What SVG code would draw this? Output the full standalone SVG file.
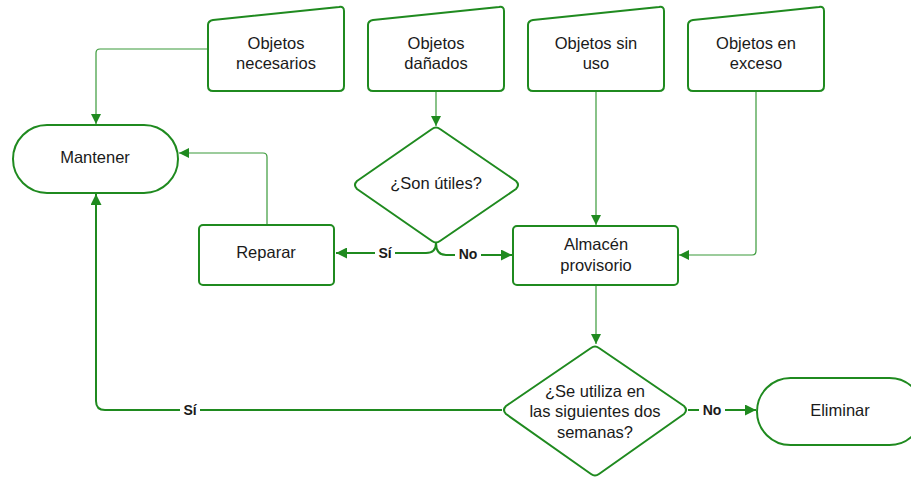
<svg xmlns="http://www.w3.org/2000/svg" width="911" height="477" viewBox="0 0 911 477">
<style>
.n{fill:#fff;stroke:#1f8a1f;stroke-width:2;stroke-linejoin:round}
.t{font-family:"Liberation Sans",Arial,sans-serif;font-size:16.5px;fill:#1a1a1a;text-anchor:middle}
.c{fill:none;stroke:#1f8a1f;stroke-linejoin:round}
.thin{stroke-width:1.2;stroke:#3a9a3a}
.thick{stroke-width:2}
.l{font-family:"Liberation Sans",Arial,sans-serif;font-size:14px;font-weight:bold;fill:#1a1a1a;text-anchor:middle}
.lb{fill:#fff}
</style>
<defs>
<marker id="a" viewBox="0 0 10 10" refX="10" refY="5" markerWidth="10" markerHeight="10" markerUnits="userSpaceOnUse" orient="auto">
<path d="M0,0 L10,5 L0,10 z" fill="#1f8a1f"/>
</marker>
<marker id="b" viewBox="0 0 10 10" refX="10" refY="5" markerWidth="13" markerHeight="11" markerUnits="userSpaceOnUse" orient="auto">
<path d="M0,0 L10,5 L0,10 z" fill="#1f8a1f"/>
</marker>
</defs>
<g id="connectors">
<path class="c thin" d="M208,49 H100 Q96,49 96,53 V124" marker-end="url(#a)"/>
<path class="c thin" d="M436,91 V126" marker-end="url(#a)"/>
<path class="c thin" d="M596,91 V225" marker-end="url(#a)"/>
<path class="c thin" d="M756,91 V251 Q756,255 752,255 H679" marker-end="url(#a)"/>
<path class="c thin" d="M267,224 V157 Q267,153 263,153 H179" marker-end="url(#a)"/>
<path class="c thin" d="M596,285 V344" marker-end="url(#a)"/>
<path class="c thick" d="M436,243 Q436,253 426,253 H336" marker-end="url(#b)"/>
<path class="c thick" d="M436,243 Q436,255 446,255 H512" marker-end="url(#b)"/>
<path class="c thick" d="M688,410 H756" marker-end="url(#b)"/>
<path class="c thick" d="M502,410 H105 Q96,410 96,401 V194" marker-end="url(#b)"/>
<rect class="lb" x="375" y="245" width="20" height="16"/>
<text class="l" x="385" y="258">Sí</text>
<rect class="lb" x="455" y="247" width="26" height="16"/>
<text class="l" x="468" y="259">No</text>
<rect class="lb" x="699" y="402" width="26" height="16"/>
<text class="l" x="712" y="415">No</text>
<rect class="lb" x="180" y="402" width="20" height="16"/>
<text class="l" x="190" y="415">Sí</text>
</g>
<g id="objetos-necesarios">
<path class="n" d="M213,20 L339,7 Q344,6 344,11 V86 Q344,91 339,91 H213 Q208,91 208,86 V25 Q208,21 213,20 Z"/>
<text class="t" x="276" y="49">Objetos</text>
<text class="t" x="276" y="69">necesarios</text>
</g>
<g id="objetos-danados">
<path class="n" d="M373,20 L499,7 Q504,6 504,11 V86 Q504,91 499,91 H373 Q368,91 368,86 V25 Q368,21 373,20 Z"/>
<text class="t" x="436" y="49">Objetos</text>
<text class="t" x="436" y="69">dañados</text>
</g>
<g id="objetos-sin-uso">
<path class="n" d="M533,20 L659,7 Q664,6 664,11 V86 Q664,91 659,91 H533 Q528,91 528,86 V25 Q528,21 533,20 Z"/>
<text class="t" x="596" y="49">Objetos sin</text>
<text class="t" x="596" y="69">uso</text>
</g>
<g id="objetos-en-exceso">
<path class="n" d="M693,20 L819,7 Q824,6 824,11 V86 Q824,91 819,91 H693 Q688,91 688,86 V25 Q688,21 693,20 Z"/>
<text class="t" x="756" y="49">Objetos en</text>
<text class="t" x="756" y="69">exceso</text>
</g>
<g id="mantener">
<rect class="n" x="13" y="125" width="165" height="68" rx="34" ry="34"/>
<text class="t" x="95" y="163">Mantener</text>
</g>
<g id="son-utiles">
<path class="n" d="M432,129 Q436,126 440,129 L516,181 Q520,185 516,189 L440,241 Q436,244 432,241 L357,189 Q353,185 357,181 Z"/>
<text class="t" x="436" y="189">¿Son útiles?</text>
</g>
<g id="reparar">
<rect class="n" x="199" y="225" width="135" height="60" rx="4"/>
<text class="t" x="266" y="258">Reparar</text>
</g>
<g id="almacen">
<rect class="n" x="513" y="226" width="165" height="59" rx="4"/>
<text class="t" x="596" y="250">Almacén</text>
<text class="t" x="596" y="271">provisorio</text>
</g>
<g id="se-utiliza">
<path class="n" d="M591,348 Q595,345 599,348 L684,406 Q688,410 684,414 L599,474 Q595,477 591,474 L506,414 Q502,410 506,406 Z"/>
<text class="t" x="595" y="397">¿Se utiliza en</text>
<text class="t" x="595" y="417">las siguientes dos</text>
<text class="t" x="595" y="438">semanas?</text>
</g>
<g id="eliminar">
<rect class="n" x="757" y="378" width="166" height="67" rx="33.5" ry="33.5"/>
<text class="t" x="840" y="416">Eliminar</text>
</g>
</svg>
